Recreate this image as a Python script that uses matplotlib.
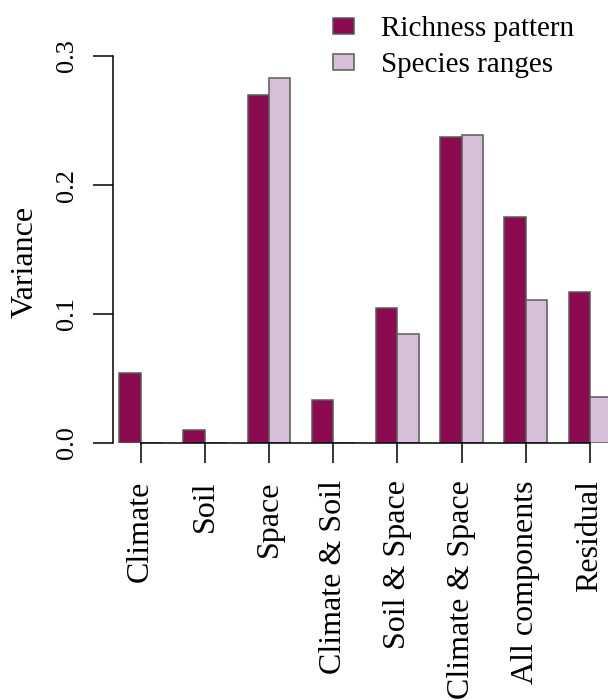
import matplotlib
matplotlib.use("Agg")
import matplotlib.pyplot as plt
from matplotlib.patches import Rectangle
import numpy as np

# Variance partitioning values
components = ["Climate", "Soil", "Space", "Climate & Soil", "Soil & Space",
              "Climate & Space", "All components", "Residual"]
richness = [0.054, 0.010, 0.270, 0.033, 0.105, 0.237, 0.175, 0.117]
ranges = [0.0, 0.0, 0.283, 0.0, 0.0845, 0.239, 0.111, 0.036]
series_names = ["Richness pattern", "Species ranges"]
series_colors = ["#8B0A50", "#D8BFD8"]
y_ticks = [0.0, 0.1, 0.2, 0.3]

plt.rcParams["font.family"] = ["Liberation Serif", "DejaVu Serif"]

W, H = 608, 700
fig = plt.figure(figsize=(W / 100, H / 100), dpi=100)
ax = fig.add_axes([113 / W, 1 - 443 / H, (W - 113) / W, (443 - 56) / H])

# R-style side-by-side bars: width 1, one unit of space between groups
left = 1 + 3 * np.arange(len(components))
for k, vals in enumerate([richness, ranges]):
    ax.bar(left + k, vals, width=1, align="edge", color=series_colors[k],
           edgecolor="#5a5a5a", linewidth=1.1)

centers = left + 1
ax.set_xticks(centers)
ax.set_xticklabels(components, rotation=90, fontsize=23)
ax.set_xlim(0.706, 23.84)
ax.set_ylim(0, 0.3)
ax.set_yticks(y_ticks)
ax.set_yticklabels([f"{v:.1f}" for v in y_ticks], rotation=90, va="center", fontsize=19)

for side in ["top", "right"]:
    ax.spines[side].set_visible(False)
ax.spines["left"].set_linewidth(1.1)
ax.spines["bottom"].set_linewidth(1.1)
ax.spines["bottom"].set_bounds(centers[0], centers[-1])
ax.tick_params(axis="both", length=14.4, width=1.1, color="black")
ax.tick_params(axis="x", pad=12.5)
ax.tick_params(axis="y", pad=10.5)

fig.text(25 / W, 1 - 262 / H, "Variance", rotation=90, ha="center", va="center", fontsize=23)

# legend drawn by hand, R style
for k, (name, col) in enumerate(zip(series_names, series_colors)):
    cy = 26 + 35.7 * k
    fig.patches.append(Rectangle((332.7 / W, 1 - (cy + 8) / H), 21.6 / W, 16 / H,
                                 transform=fig.transFigure, facecolor=col,
                                 edgecolor="#5a5a5a", linewidth=1.1))
    fig.text(381 / W, 1 - (cy + 10) / H, name, ha="left", va="baseline", fontsize=21)

fig.savefig("out.png", dpi=100)
